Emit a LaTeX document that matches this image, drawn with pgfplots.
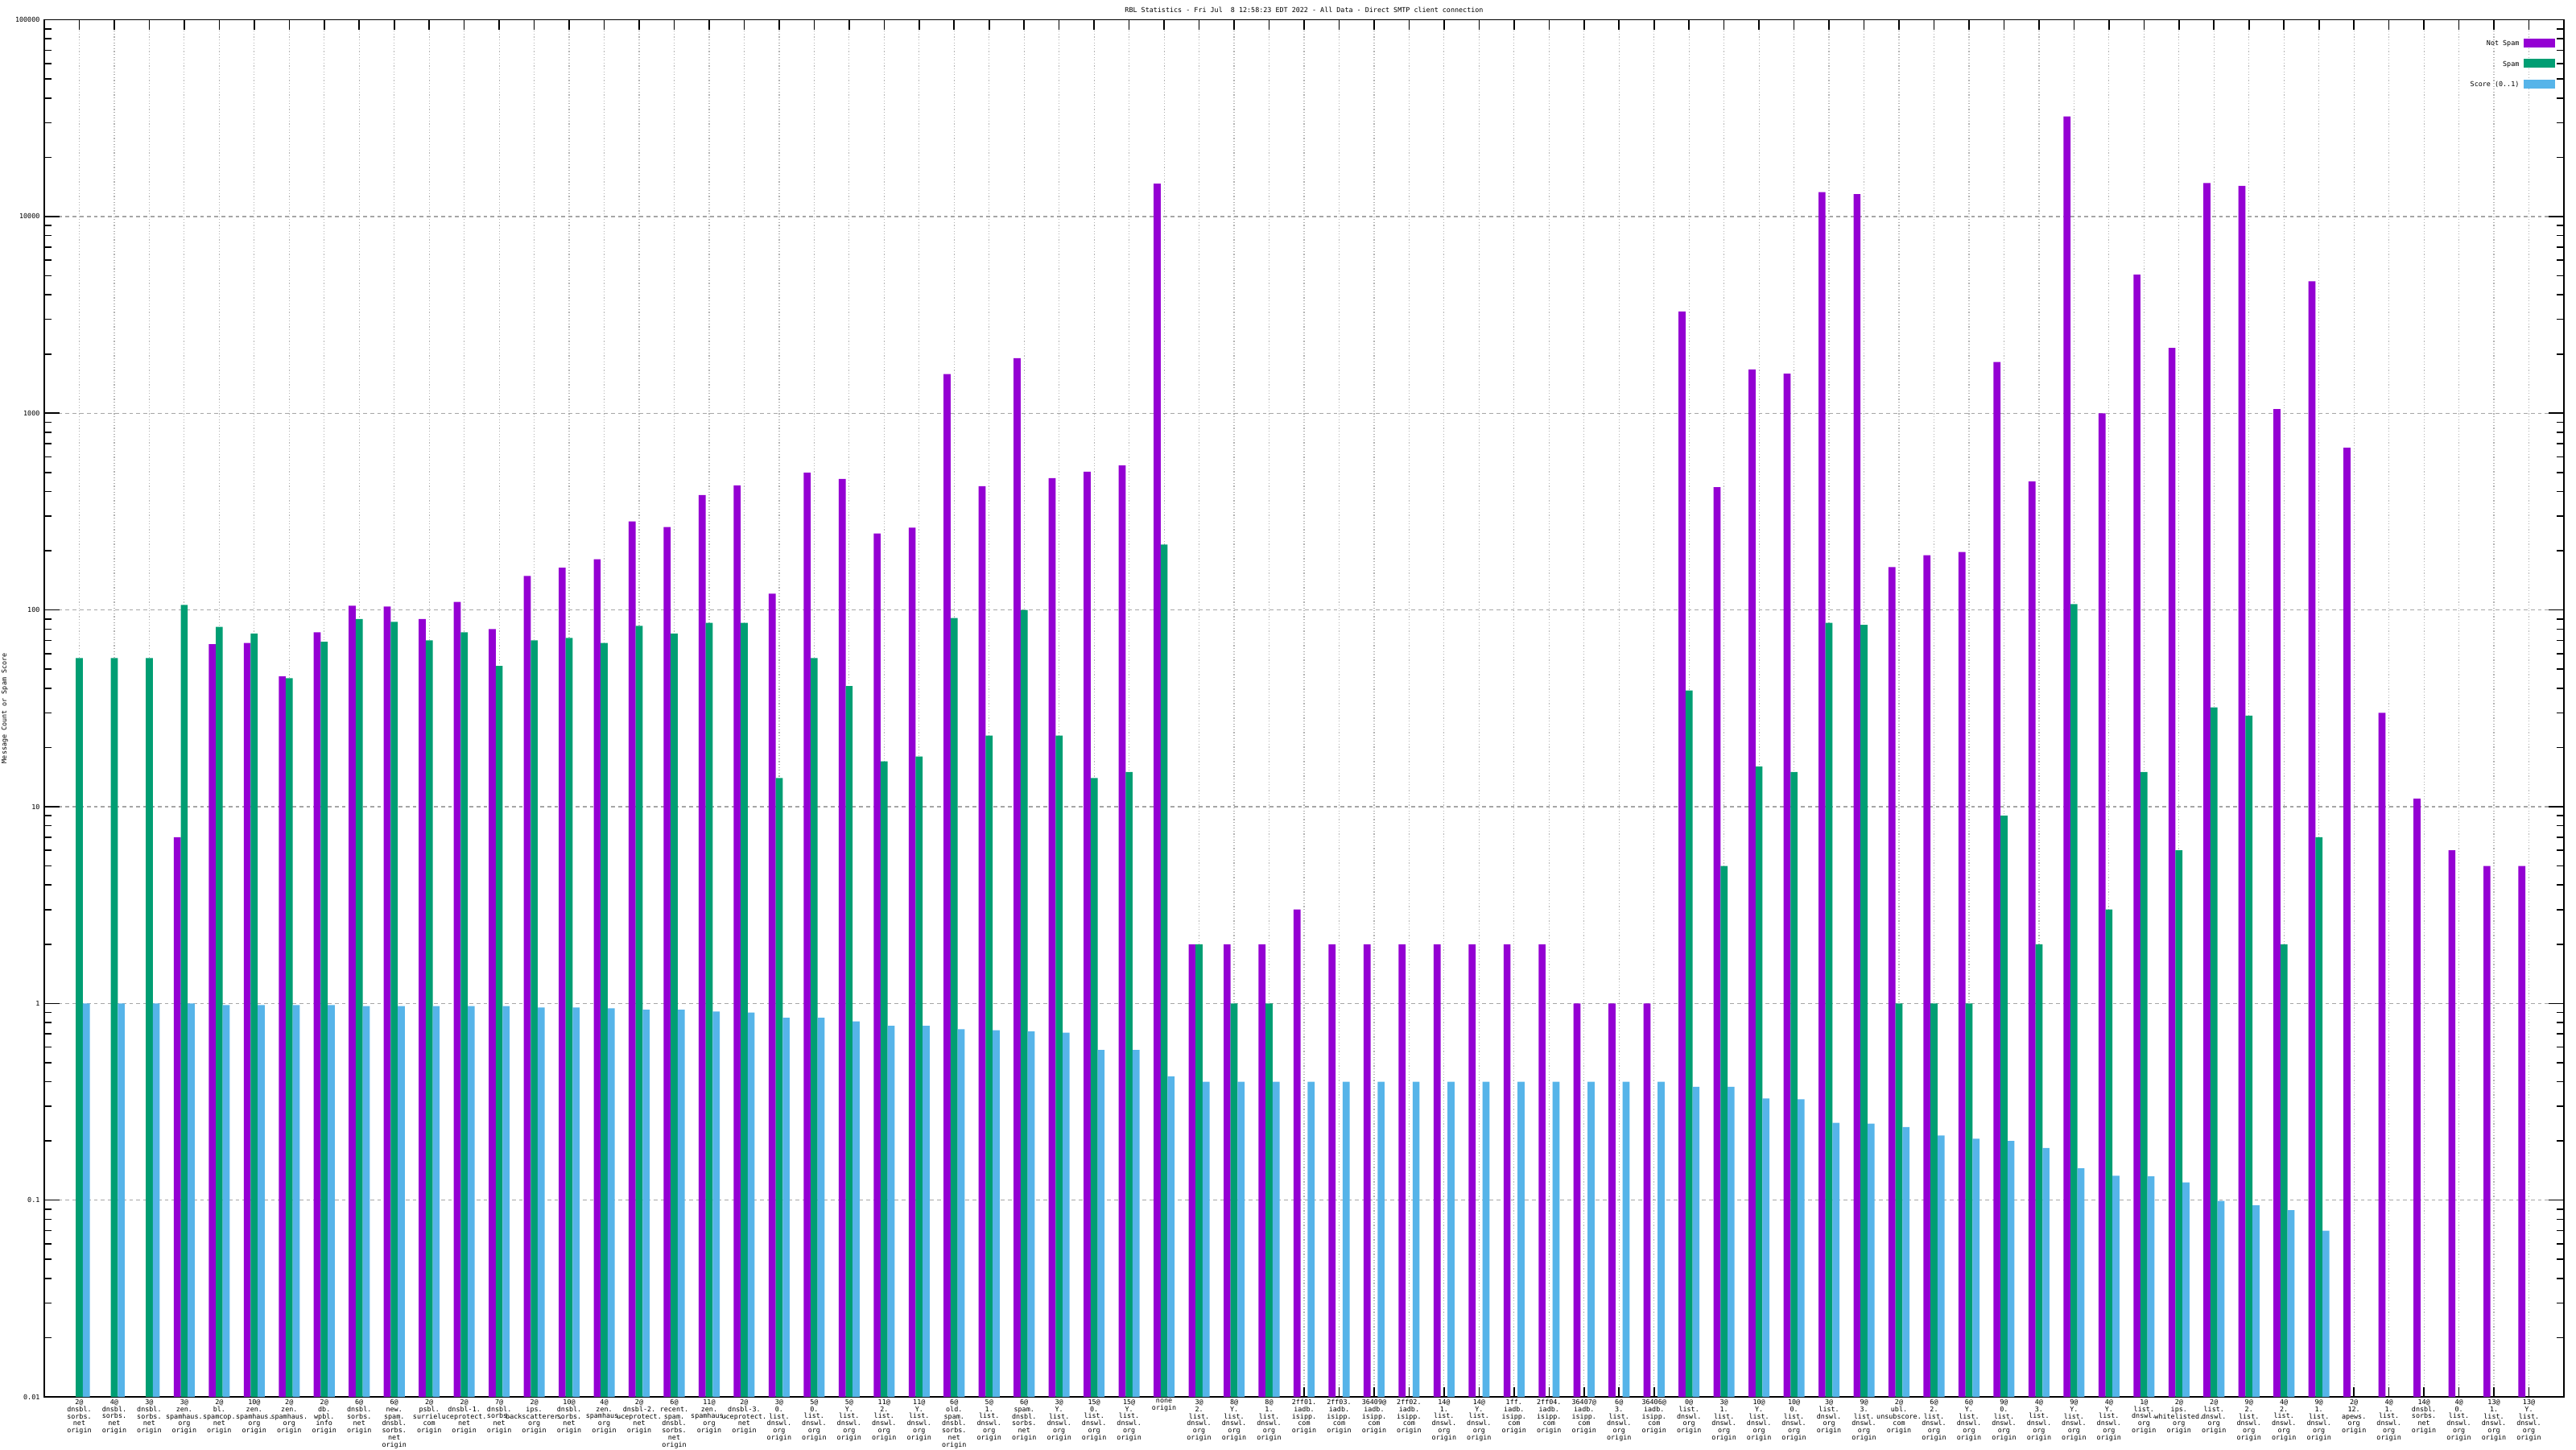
\documentclass[border=0pt]{standalone}
\usepackage{pgfplots}
\pgfplotsset{compat=1.18}
\usepackage{pgfplotstable}
\usepackage{fontspec}
\setmainfont{DejaVu Sans Mono}
\definecolor{ns}{HTML}{9400D3}
\definecolor{sp}{HTML}{009E73}
\definecolor{sc}{HTML}{56B4E9}
\newcommand{\gp}{\fontsize{2.1pt}{2.2pt}\selectfont}

\pgfplotstableread{
x ns sp sc
0 nan 57 1.0
1 nan 57 1.0
2 nan 57 1.0
3 7 106 1.0
4 67 82 0.98
5 68 76 0.98
6 46 45 0.98
7 77 69 0.98
8 105 90 0.97
9 104 87 0.97
10 90 70 0.97
11 110 77 0.97
12 80 52 0.97
13 149 70 0.953
14 164 72 0.953
15 181 68 0.945
16 282 83 0.93
17 264 76 0.93
18 384 86 0.91
19 430 86 0.90
20 121 14 0.845
21 499 57 0.845
22 463 41 0.81
23 245 17 0.77
24 262 18 0.77
25 1580 91 0.74
26 426 23 0.73
27 1905 100 0.72
28 468 23 0.71
29 504 14 0.58
30 543 15 0.58
31 14700 215 0.426
32 2 2 0.40
33 2 1 0.40
34 2 1 0.40
35 3 nan 0.40
36 2 nan 0.40
37 2 nan 0.40
38 2 nan 0.40
39 2 nan 0.40
40 2 nan 0.40
41 2 nan 0.40
42 2 nan 0.40
43 1 nan 0.40
44 1 nan 0.40
45 1 nan 0.40
46 3290 39 0.377
47 421 5 0.377
48 1670 16 0.329
49 1590 15 0.326
50 13300 86 0.247
51 13000 84 0.245
52 165 1 0.235
53 190 1 0.213
54 197 1 0.205
55 1820 9 0.20
56 451 2 0.184
57 32300 107 0.145
58 1000 3 0.133
59 5070 15 0.132
60 2150 6 0.123
61 14800 32 0.099
62 14300 29 0.094
63 1050 2 0.089
64 4690 7 0.070
65 668 nan nan
66 30 nan nan
67 11 nan nan
68 6 nan nan
69 5 nan nan
70 5 nan nan
}\data

\begin{document}
\begin{tikzpicture}
\useasboundingbox (0,0) rectangle (800pt,450pt);
\begin{axis}[
  at={(13.75pt,16.25pt)}, anchor=south west,
  scale only axis, width=782.5pt, height=427.6pt,
  xmin=-1, xmax=71,
  ymode=log, ymin=0.01, ymax=100000,
  log origin y=infty,
  axis line style={black, line width=0.45pt},
  xtick={0,...,70},
  xticklabels={
  {2@\\dnsbl.\\sorbs.\\net\\origin},
  {4@\\dnsbl.\\sorbs.\\net\\origin},
  {3@\\dnsbl.\\sorbs.\\net\\origin},
  {3@\\zen.\\spamhaus.\\org\\origin},
  {2@\\bl.\\spamcop.\\net\\origin},
  {10@\\zen.\\spamhaus.\\org\\origin},
  {2@\\zen.\\spamhaus.\\org\\origin},
  {2@\\db.\\wpbl.\\info\\origin},
  {6@\\dnsbl.\\sorbs.\\net\\origin},
  {6@\\new.\\spam.\\dnsbl.\\sorbs.\\net\\origin},
  {2@\\psbl.\\surriel.\\com\\origin},
  {2@\\dnsbl-1.\\uceprotect.\\net\\origin},
  {7@\\dnsbl.\\sorbs.\\net\\origin},
  {2@\\ips.\\backscatterer.\\org\\origin},
  {10@\\dnsbl.\\sorbs.\\net\\origin},
  {4@\\zen.\\spamhaus.\\org\\origin},
  {2@\\dnsbl-2.\\uceprotect.\\net\\origin},
  {6@\\recent.\\spam.\\dnsbl.\\sorbs.\\net\\origin},
  {11@\\zen.\\spamhaus.\\org\\origin},
  {2@\\dnsbl-3.\\uceprotect.\\net\\origin},
  {3@\\0.\\list.\\dnswl.\\org\\origin},
  {5@\\0.\\list.\\dnswl.\\org\\origin},
  {5@\\Y.\\list.\\dnswl.\\org\\origin},
  {11@\\2.\\list.\\dnswl.\\org\\origin},
  {11@\\Y.\\list.\\dnswl.\\org\\origin},
  {6@\\old.\\spam.\\dnsbl.\\sorbs.\\net\\origin},
  {5@\\1.\\list.\\dnswl.\\org\\origin},
  {6@\\spam.\\dnsbl.\\sorbs.\\net\\origin},
  {3@\\Y.\\list.\\dnswl.\\org\\origin},
  {15@\\0.\\list.\\dnswl.\\org\\origin},
  {15@\\Y.\\list.\\dnswl.\\org\\origin},
  {none\\origin},
  {3@\\2.\\list.\\dnswl.\\org\\origin},
  {8@\\Y.\\list.\\dnswl.\\org\\origin},
  {8@\\1.\\list.\\dnswl.\\org\\origin},
  {2ff01.\\iadb.\\isipp.\\com\\origin},
  {2ff03.\\iadb.\\isipp.\\com\\origin},
  {36409@\\iadb.\\isipp.\\com\\origin},
  {2ff02.\\iadb.\\isipp.\\com\\origin},
  {14@\\1.\\list.\\dnswl.\\org\\origin},
  {14@\\Y.\\list.\\dnswl.\\org\\origin},
  {1ff.\\iadb.\\isipp.\\com\\origin},
  {2ff04.\\iadb.\\isipp.\\com\\origin},
  {36407@\\iadb.\\isipp.\\com\\origin},
  {6@\\3.\\list.\\dnswl.\\org\\origin},
  {36406@\\iadb.\\isipp.\\com\\origin},
  {0@\\list.\\dnswl.\\org\\origin},
  {3@\\1.\\list.\\dnswl.\\org\\origin},
  {10@\\Y.\\list.\\dnswl.\\org\\origin},
  {10@\\0.\\list.\\dnswl.\\org\\origin},
  {3@\\list.\\dnswl.\\org\\origin},
  {9@\\3.\\list.\\dnswl.\\org\\origin},
  {2@\\ubl.\\unsubscore.\\com\\origin},
  {6@\\2.\\list.\\dnswl.\\org\\origin},
  {6@\\Y.\\list.\\dnswl.\\org\\origin},
  {9@\\0.\\list.\\dnswl.\\org\\origin},
  {4@\\3.\\list.\\dnswl.\\org\\origin},
  {9@\\Y.\\list.\\dnswl.\\org\\origin},
  {4@\\Y.\\list.\\dnswl.\\org\\origin},
  {1@\\list.\\dnswl.\\org\\origin},
  {2@\\ips.\\whitelisted.\\org\\origin},
  {2@\\list.\\dnswl.\\org\\origin},
  {9@\\2.\\list.\\dnswl.\\org\\origin},
  {4@\\2.\\list.\\dnswl.\\org\\origin},
  {9@\\1.\\list.\\dnswl.\\org\\origin},
  {2@\\12.\\apews.\\org\\origin},
  {4@\\1.\\list.\\dnswl.\\org\\origin},
  {14@\\dnsbl.\\sorbs.\\net\\origin},
  {4@\\0.\\list.\\dnswl.\\org\\origin},
  {13@\\1.\\list.\\dnswl.\\org\\origin},
  {13@\\Y.\\list.\\dnswl.\\org\\origin}
  },
  xticklabel style={font=\gp, align=center, anchor=north, inner sep=0.6pt},
  ytick={0.01,0.1,1,10,100,1000,10000,100000},
  yticklabels={0.01,0.1,1,10,100,1000,10000,100000},
  minor ytick={0.02,0.03,0.04,0.05,0.06,0.07,0.08,0.09,
    0.2,0.3,0.4,0.5,0.6,0.7,0.8,0.9,
    2,3,4,5,6,7,8,9,
    20,30,40,50,60,70,80,90,
    200,300,400,500,600,700,800,900,
    2000,3000,4000,5000,6000,7000,8000,9000,
    20000,30000,40000,50000,60000,70000,80000,90000},
  yticklabel style={font=\gp, inner sep=1.2pt},
  /pgf/number format/assume math mode=true,
  tick align=inside,
  xtick pos=both, ytick pos=both,
  xticklabel pos=lower, yticklabel pos=left,
  major tick length=4.75pt, minor tick length=2.3pt,
  tick style={black, line width=0.4pt},
  xtick style={/pgfplots/major tick length=3pt},
  xmajorgrids, ymajorgrids,
  major x grid style={gray!60, line width=0.3pt, dash pattern=on 0.3pt off 0.6pt},
  major y grid style={gray!70, line width=0.3pt, dash pattern=on 1.2pt off 1pt},
  title={RBL Statistics - Fri Jul\ \ 8 12:58:23 EDT 2022 - All Data - Direct SMTP client connection},
  every axis title/.style={at={(axis description cs:0.5,1)}, anchor=center, yshift=3.1pt, font=\gp},
  ylabel={Message Count or Spam Score},
  every axis y label/.style={at={(axis description cs:0,0.5)}, xshift=-12.25pt, rotate=90, anchor=center, font=\gp},
  legend style={draw=none, fill=none, at={(axis description cs:1,1)}, anchor=north east,
    xshift=-2.5pt, yshift=-5.6pt, inner sep=0pt, row sep=2.5pt, column sep=1.25pt,
    font=\gp, nodes={inner sep=0.2pt}},
  legend cell align=right,
  legend plot pos=right,
]
\addplot[ybar, fill=ns, draw=none, bar width=0.2, bar shift=-0.2,
  legend image code/.code={\fill[ns] (0pt,-0.6pt) rectangle (9.75pt,2.15pt);}]
  table[x=x, y=ns] {\data};
\addlegendentry{Not Spam}
\addplot[ybar, fill=sp, draw=none, bar width=0.2, bar shift=0,
  legend image code/.code={\fill[sp] (0pt,-0.6pt) rectangle (9.75pt,2.15pt);}]
  table[x=x, y=sp] {\data};
\addlegendentry{Spam}
\addplot[ybar, fill=sc, draw=none, bar width=0.2, bar shift=0.2,
  legend image code/.code={\fill[sc] (0pt,-0.6pt) rectangle (9.75pt,2.15pt);}]
  table[x=x, y=sc] {\data};
\addlegendentry{Score (0..1)}
\end{axis}
\end{tikzpicture}
\end{document}
